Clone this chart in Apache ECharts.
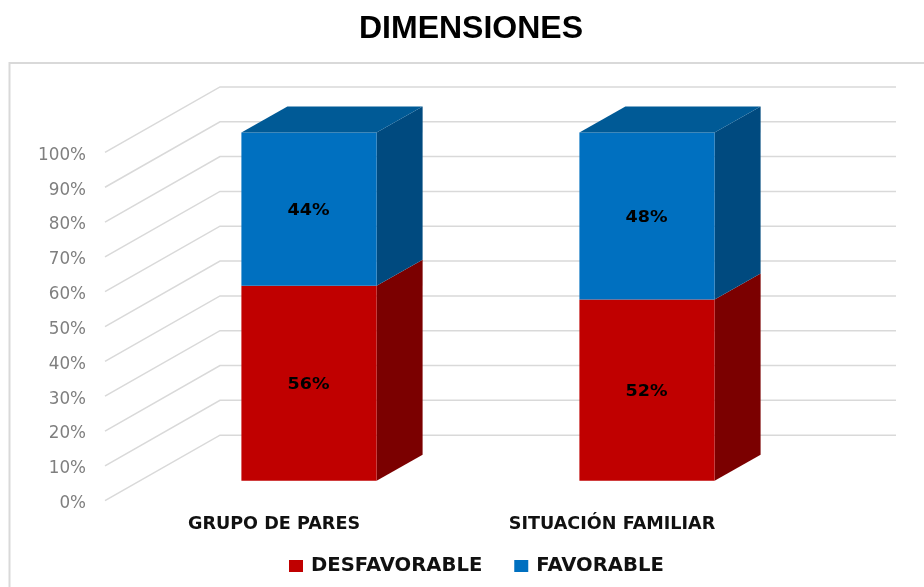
<!DOCTYPE html>
<html>
<head>
<meta charset="utf-8">
<title>DIMENSIONES</title>
<script src="https://cdn.jsdelivr.net/npm/echarts@6/dist/echarts.min.js"></script>
<style>
  html, body { margin: 0; padding: 0; background: #fff; }
  #chart { width: 924px; height: 587px; }
</style>
</head>
<body>
<div id="chart"></div>
<script>
const categories = ['GRUPO DE PARES', 'SITUACIÓN FAMILIAR']
const desfavorable = [56, 52]
const favorable = [44, 48]
const tickValues = [0, 10, 20, 30, 40, 50, 60, 70, 80, 90, 100]

// pseudo 3d: pixel offsets from the axis plane to the bars and the back wall
const wall = [115, -65.5]
const barShift = [35, -20]
const barDepth = [46, -26]
const barRatio = 0.4

const labelFont = 'DejaVu Sans'

const move = (p, d) => [p[0] + d[0], p[1] + d[1]]

const renderWall = (params, api) => {
  const cs = params.coordSys
  const y = api.coord([0, api.value(1)])[1]
  const start = [cs.x, y]
  const corner = move(start, wall)
  return {
    type: 'polyline',
    silent: true,
    shape: { points: [start, corner, [corner[0] + cs.width, corner[1]]] },
    style: { fill: 'none', stroke: '#d9d9d9', lineWidth: 1.5 }
  }
}

const renderBar = (colors) => (params, api) => {
  const cat = api.value(0)
  const val = api.value(1)
  const base = api.value(2)
  const width = api.size([1, 0])[0] * barRatio
  const low = move(api.coord([cat, base]), barShift)
  const high = move(api.coord([cat, base + val]), barShift)
  const x0 = low[0] - width / 2
  const x1 = low[0] + width / 2
  const children = [
    {
      type: 'polygon',
      shape: { points: [[x1, low[1]], move([x1, low[1]], barDepth), move([x1, high[1]], barDepth), [x1, high[1]]] },
      style: { fill: colors.side }
    },
    {
      type: 'rect',
      shape: { x: x0, y: high[1], width, height: low[1] - high[1] },
      style: { fill: colors.front }
    },
    {
      type: 'text',
      x: low[0] - 0.5,
      y: (low[1] + high[1]) / 2 + 2,
      scaleX: 1.17,
      style: {
        text: val + '%',
        align: 'center',
        verticalAlign: 'middle',
        fill: '#000',
        font: 'bold 15px "' + labelFont + '"'
      }
    }
  ]
  if (colors.top) {
    children.push({
      type: 'polygon',
      shape: { points: [[x0, high[1]], move([x0, high[1]], barDepth), move([x1, high[1]], barDepth), [x1, high[1]]] },
      style: { fill: colors.top }
    })
  }
  return { type: 'group', children }
}

const chart = echarts.init(document.getElementById('chart'), null, { renderer: 'canvas' })

chart.setOption({
  animation: false,
  backgroundColor: '#fff',
  title: {
    text: 'DIMENSIONES',
    left: 471,
    top: 13,
    padding: 0,
    textAlign: 'center',
    textStyle: { fontFamily: 'Liberation Sans', fontWeight: 'bold', fontSize: 32, color: '#000' }
  },
  graphic: [{
    type: 'rect',
    silent: true,
    shape: { x: 9.5, y: 63, width: 1000, height: 600 },
    style: { fill: 'none', stroke: '#d9d9d9', lineWidth: 2 }
  }],
  legend: {
    left: 289,
    top: 556,
    padding: 0,
    itemWidth: 14,
    itemHeight: 12,
    itemGap: 32,
    icon: 'rect',
    data: ['DESFAVORABLE', 'FAVORABLE'],
    textStyle: { fontFamily: labelFont, fontWeight: 'bold', fontSize: 19.6, color: '#111', padding: [0, 0, 0, 3] }
  },
  grid: { left: 105, right: 143, top: 152.4, bottom: 86.3 },
  xAxis: {
    type: 'category',
    data: categories,
    axisLine: { show: false },
    axisTick: { show: false },
    axisLabel: { margin: 15, fontFamily: labelFont, fontWeight: 'bold', fontSize: 17.6, color: '#111' }
  },
  yAxis: {
    type: 'value',
    min: 0,
    max: 100,
    interval: 10,
    axisLine: { show: false },
    axisTick: { show: false },
    splitLine: { show: false },
    axisLabel: {
      margin: 19,
      formatter: '{tick|{value}%}',
      rich: {
        tick: { padding: [6, 0, 0, 0], fontFamily: labelFont, fontSize: 16.8, color: '#7f7f7f' }
      }
    }
  },
  series: [
    {
      type: 'custom',
      silent: true,
      z: 1,
      renderItem: renderWall,
      encode: { x: 0, y: 1 },
      data: tickValues.map(v => [0, v])
    },
    {
      name: 'DESFAVORABLE',
      type: 'custom',
      z: 2,
      itemStyle: { color: '#c00000' },
      renderItem: renderBar({ front: '#c00000', side: '#7b0000' }),
      encode: { x: 0, y: 1 },
      data: desfavorable.map((v, i) => [i, v, 0])
    },
    {
      name: 'FAVORABLE',
      type: 'custom',
      z: 3,
      itemStyle: { color: '#0070c0' },
      renderItem: renderBar({ front: '#0070c0', side: '#004a7f', top: '#005a96' }),
      encode: { x: 0, y: 1 },
      data: favorable.map((v, i) => [i, v, desfavorable[i]])
    }
  ]
})
</script>
</body>
</html>
